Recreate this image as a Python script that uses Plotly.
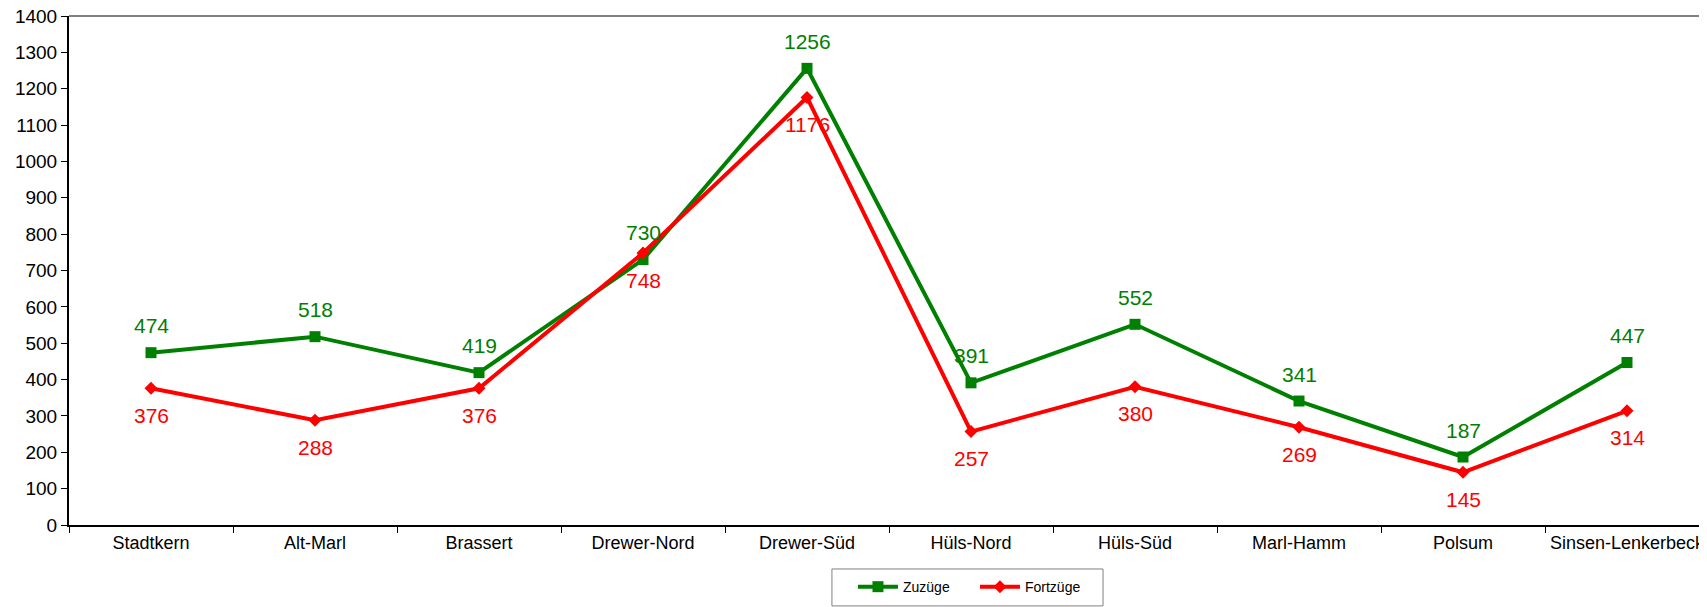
import plotly.graph_objects as go

bezirke = ["Stadtkern", "Alt-Marl", "Brassert", "Drewer-Nord", "Drewer-Süd",
           "Hüls-Nord", "Hüls-Süd", "Marl-Hamm", "Polsum", "Sinsen-Lenkerbeck"]
zuzuege = [474, 518, 419, 730, 1256, 391, 552, 341, 187, 447]
fortzuege = [376, 288, 376, 748, 1176, 257, 380, 269, 145, 314]

GREEN = "#008000"
RED = "#FF0000"
FONT = "Liberation Sans, Arial"

fig = go.Figure()
fig.add_trace(go.Scatter(x=bezirke, y=zuzuege, name="Zuzüge", mode="lines+markers",
                         line=dict(color=GREEN, width=4),
                         marker=dict(symbol="square", size=11, color=GREEN)))
fig.add_trace(go.Scatter(x=bezirke, y=fortzuege, name="Fortzüge", mode="lines+markers",
                         line=dict(color=RED, width=4),
                         marker=dict(symbol="diamond", size=10, color=RED)))

# value labels: green above, red below
for b, v in zip(bezirke, zuzuege):
    fig.add_annotation(x=b, y=v, text=str(v), showarrow=False, yshift=27,
                       font=dict(size=21, color=GREEN))
for b, v in zip(bezirke, fortzuege):
    fig.add_annotation(x=b, y=v, text=str(v), showarrow=False, yshift=-27,
                       font=dict(size=21, color=RED))

# title, almost entirely above the top edge of the page
fig.add_annotation(xref="paper", yref="paper", x=0.4549, y=1, yanchor="bottom", yshift=8,
                   showarrow=False,
                   text="<b><span style='color:#008000'>Zuzüge</span> und "
                        "<span style='color:#FF0000'>Fortzüge</span></b>",
                   font=dict(size=22))

# gray frame line at the top of the plot
fig.add_shape(type="line", xref="paper", yref="paper", x0=0, x1=1, y0=1, y1=1,
              line=dict(color="#808080", width=2))
# legend box
fig.add_shape(type="rect", xref="paper", yref="paper", x0=0.4652, x1=0.6305,
              y0=-0.159, y1=-0.0864, line=dict(color="#808080", width=1))

fig.update_layout(
    width=1707, height=607,
    margin=dict(l=61, r=6, t=8, b=90),
    plot_bgcolor="white", paper_bgcolor="white",
    font=dict(family=FONT, color="black"),
    showlegend=True,
    legend=dict(orientation="h", xref="container", yref="container",
                x=0.495, xanchor="left", y=0.046, yanchor="middle",
                bgcolor="rgba(0,0,0,0)", borderwidth=0, font=dict(size=14),
                itemwidth=40, entrywidth=67),
    xaxis=dict(range=[-0.5, 9.5], showline=True, linecolor="black", linewidth=2,
               showgrid=False, ticks="outside", ticklen=6, tickson="boundaries",
               tickcolor="black", tickangle=0, tickfont=dict(size=18), automargin=False,
               ticklabeloverflow="allow"),
    yaxis=dict(range=[0, 1400], dtick=100, showline=True, linecolor="black", linewidth=2,
               showgrid=False, zeroline=False, ticks="outside", ticklen=6,
               tickcolor="black", tickfont=dict(size=19), automargin=False,
               ticklabeloverflow="allow"),
)

fig.write_html("out.html")
